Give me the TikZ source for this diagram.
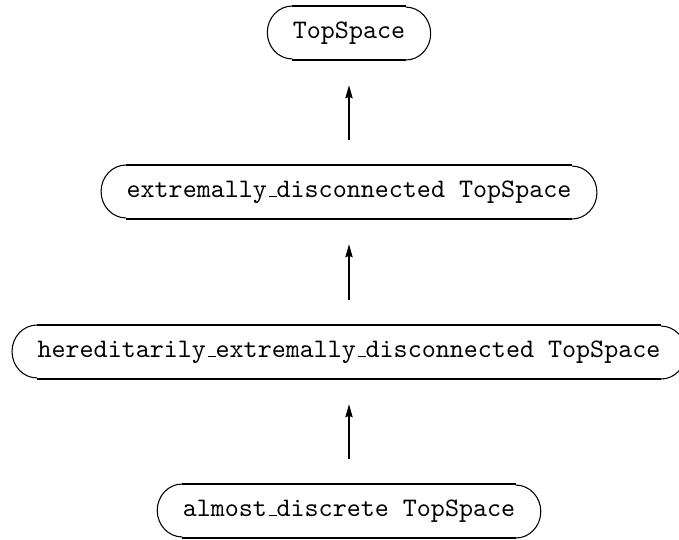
\documentclass[tikz,border=0pt]{standalone}
\usetikzlibrary{arrows.meta}
\makeatletter
\newcommand\usc{\leavevmode\kern.06em\vbox{\hrule\@width.3em}}
\makeatother
\tikzset{
  tbox/.style={font=\ttfamily, inner xsep=0pt, inner ysep=0pt, minimum height=19.8pt},
  edgeline/.style={line width=1.1pt},
  endarc/.style={line width=0.4pt},
  uparrow/.style={line width=0.7pt, -{Stealth[length=4.9pt,width=2.7pt,inset=0.6pt]}, shorten <=9.4pt, shorten >=9.4pt}
}
\begin{document}
\begin{tikzpicture}[x=0.374pt,y=-0.374pt]
\useasboundingbox (0,0) rectangle (679,539);
\node[tbox] (a) at (349,33) {TopSpace};
\node[tbox] (b) at (349,192) {extremally\usc disconnected TopSpace};
\node[tbox] (c) at (349,352) {hereditarily\usc extremally\usc disconnected TopSpace};
\node[tbox] (d) at (349,511) {almost\usc discrete TopSpace};
\foreach \n in {a,b,c,d}{
  \draw[edgeline] (\n.north west) -- (\n.north east);
  \draw[edgeline] (\n.south west) -- (\n.south east);
  \draw[endarc] (\n.north west) arc[start angle=90, end angle=270, x radius=9.35pt, y radius=9.9pt];
  \draw[endarc] (\n.south east) arc[start angle=-90, end angle=90, x radius=9.35pt, y radius=9.9pt];
}
\draw[uparrow] (b.north) -- (a.south);
\draw[uparrow] (c.north) -- (b.south);
\draw[uparrow] (d.north) -- (c.south);
\end{tikzpicture}
\end{document}
